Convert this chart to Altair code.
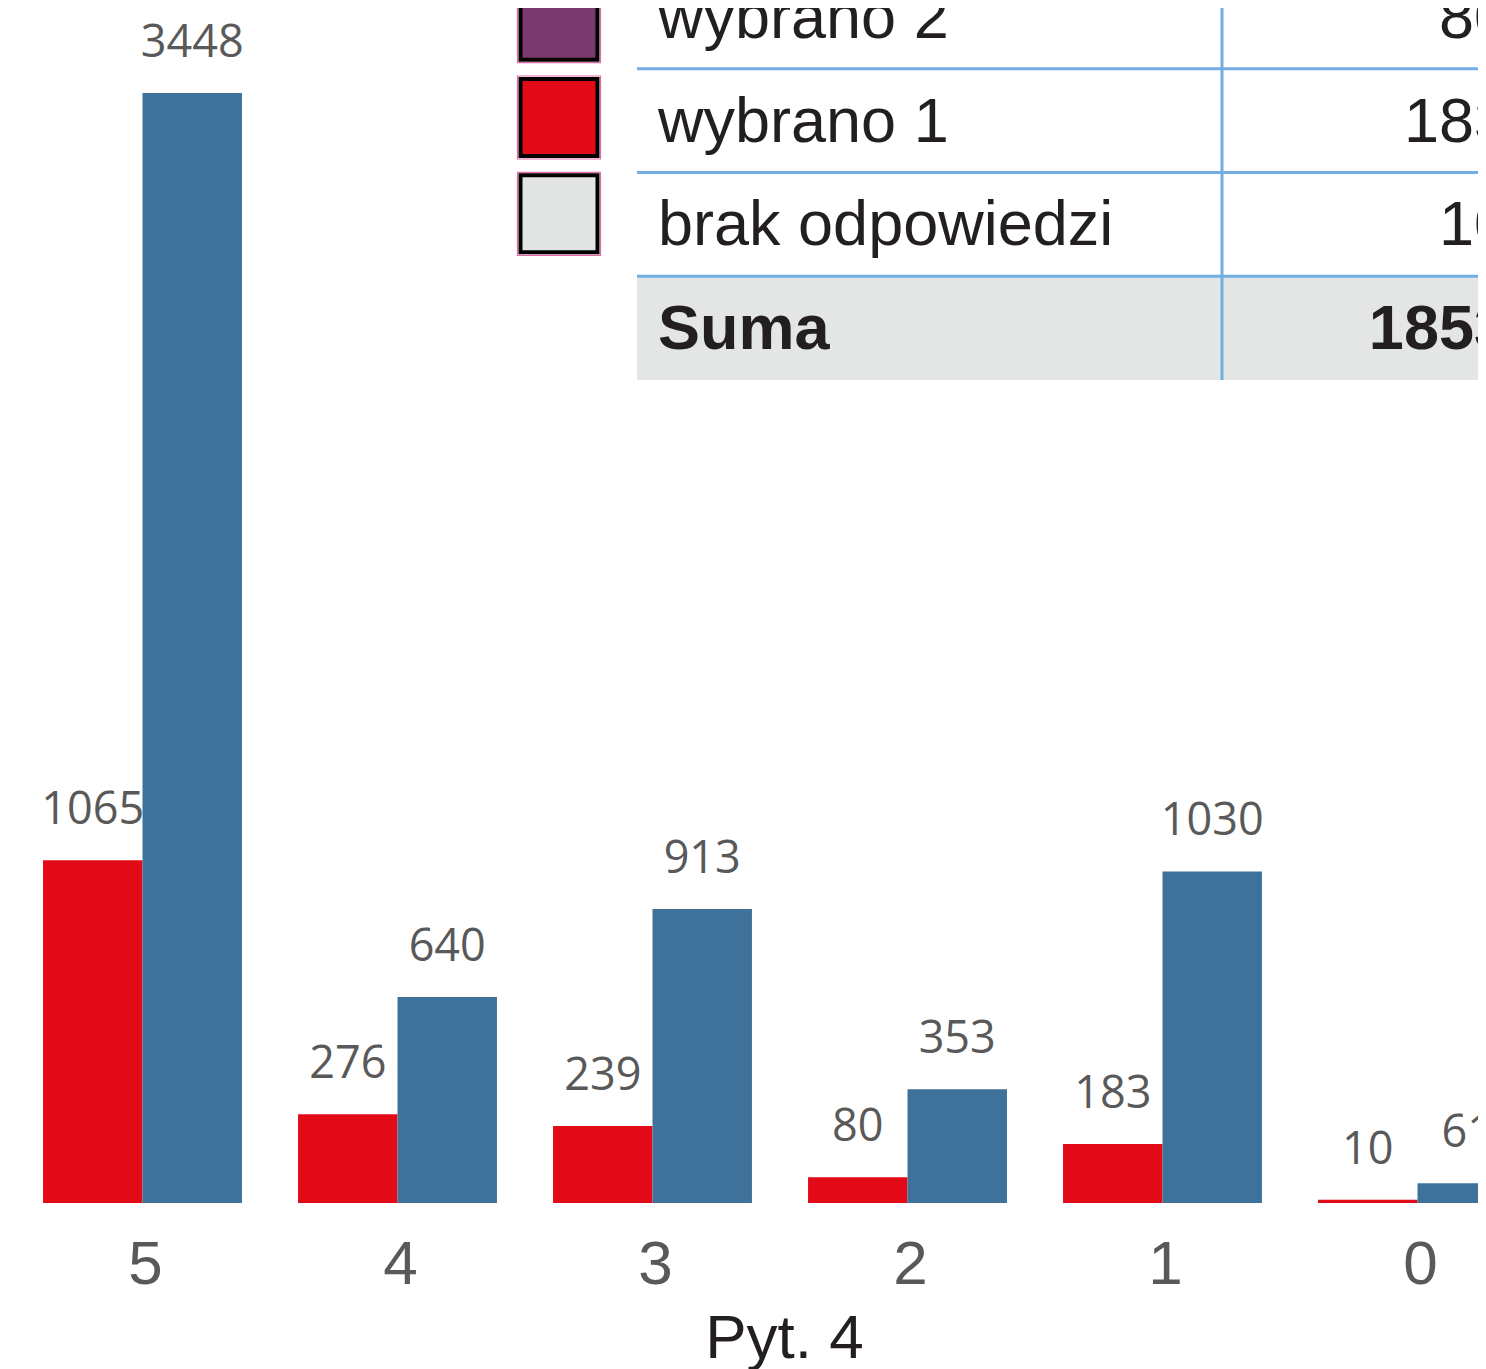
import altair as alt
import pandas as pd

# ---- data ----
categories = ["5", "4", "3", "2", "1", "0"]
series_keys = ["s1", "s2"]
red_values = [1065, 276, 239, 80, 183, 10]
blue_values = [3448, 640, 913, 353, 1030, 61]

table_rows = ["wybrano 2", "wybrano 1", "brak odpowiedzi", "Suma"]
table_values = ["80", "183", "10", "1853"]
swatch_colors = ["#7a3a6d", "#e30a17", "#e3e5e4"]

RED = "#e30a17"
BLUE = "#3e729a"
LINE = "#72ade3"
TXT = "#231f20"
GRAY_TXT = "#595959"

W, H = 1470, 1195

bars_df = pd.DataFrame({
    "cat": categories * 2,
    "series": [series_keys[0]] * len(categories) + [series_keys[1]] * len(categories),
    "value": red_values + blue_values,
})
rows_df = pd.DataFrame({"row": table_rows, "val": table_values})
sw_df = pd.DataFrame({"row": table_rows[:3], "c": swatch_colors})
one_df = pd.DataFrame({"a": [0]})

xscale = alt.Scale(domain=categories, range=[7, 1537], paddingInner=0.22, paddingOuter=0.11)
yscale = alt.Scale(domain=[0, 3712], nice=False, zero=True)

xenc = alt.X(
    "cat:N", scale=xscale,
    axis=alt.Axis(
        title="Pyt. 4", domain=False, ticks=False, grid=False, labelAngle=0,
        labelFont="Liberation Sans", labelFontSize=62, labelColor=GRAY_TXT, labelPadding=31,
        labelOffset=3,
        titleFont="Liberation Sans", titleFontSize=62, titleFontWeight="normal",
        titleColor=TXT, titleX=776, titleY=154, titleBaseline="alphabetic", titleAlign="center",
    ),
)
xoff = alt.XOffset("series:N", scale=alt.Scale(domain=series_keys, paddingInner=0, paddingOuter=0))
yenc = alt.Y("value:Q", scale=yscale, axis=None)

bars = alt.Chart(bars_df).mark_bar(clip=True).encode(
    x=xenc, xOffset=xoff, y=yenc,
    color=alt.Color("series:N", scale=alt.Scale(domain=series_keys, range=[RED, BLUE]), legend=None),
)
labels = alt.Chart(bars_df).mark_text(
    clip=True, dy=-36, baseline="alphabetic", font="Open Sans", fontSize=45, color=GRAY_TXT
).encode(x=xenc, xOffset=xoff, y=yenc, text="value:Q")

row_scale = alt.Scale(type="band", domain=table_rows, range=[-43, 372], paddingInner=0, paddingOuter=0)
row_y = alt.Y("row:N", scale=row_scale, axis=None)
row_y0 = alt.Y("row:N", scale=row_scale, axis=None, bandPosition=0)

suma_bg = alt.Chart(rows_df).transform_filter(alt.datum.row == "Suma").mark_rect(
    clip=True, color="#e4e6e5"
).encode(y=row_y, x=alt.value(629), x2=alt.value(1490))

hlines = alt.Chart(rows_df).mark_rule(clip=True, color=LINE, strokeWidth=3).encode(
    y=row_y0, x=alt.value(629), x2=alt.value(1490)
)
vline = alt.Chart(one_df).mark_rule(clip=True, color=LINE, strokeWidth=3).encode(
    x=alt.value(1214), y=alt.value(-50), y2=alt.value(372)
)

sw_scale = alt.Scale(type="band", domain=table_rows[:3], range=[-35, 254], paddingInner=0, paddingOuter=0)
sw_y = alt.Y("row:N", scale=sw_scale, axis=None)
sw_outline = alt.Chart(sw_df).mark_square(
    clip=True, size=83 * 83, filled=False, stroke="#e46aa8", strokeWidth=1.2, opacity=1
).encode(x=alt.value(551), y=sw_y)
swatches = alt.Chart(sw_df).mark_square(
    clip=True, size=77 * 77, filled=True, stroke="black", strokeWidth=4, opacity=1
).encode(x=alt.value(551), y=sw_y, fill=alt.Fill("c:N", scale=None))

row_txt = alt.Chart(rows_df).transform_filter(alt.datum.row != "Suma").mark_text(
    clip=True, align="left", baseline="alphabetic", dy=21, font="Liberation Sans",
    fontSize=63, color=TXT
).encode(x=alt.value(650), y=row_y, text="row:N")
row_txt_b = alt.Chart(rows_df).transform_filter(alt.datum.row == "Suma").mark_text(
    clip=True, align="left", baseline="alphabetic", dy=21, font="Liberation Sans",
    fontSize=63, fontWeight="bold", color=TXT
).encode(x=alt.value(650), y=row_y, text="row:N")
val_txt = alt.Chart(rows_df).transform_filter(alt.datum.row != "Suma").mark_text(
    clip=True, align="right", baseline="alphabetic", dy=21, font="Liberation Sans",
    fontSize=63, color=TXT
).encode(x=alt.value(1501), y=row_y, text="val:N")
val_txt_b = alt.Chart(rows_df).transform_filter(alt.datum.row == "Suma").mark_text(
    clip=True, align="right", baseline="alphabetic", dy=21, font="Liberation Sans",
    fontSize=63, fontWeight="bold", color=TXT
).encode(x=alt.value(1501), y=row_y, text="val:N")

chart = alt.layer(
    suma_bg, hlines, vline, sw_outline, swatches,
    row_txt, row_txt_b, val_txt, val_txt_b,
    bars, labels,
).resolve_scale(y="independent").properties(
    width=W, height=H,
    autosize=alt.AutoSizeParams(type="none"),
    padding={"left": 0, "top": 0, "right": 0, "bottom": 166},
).configure_view(stroke=None)

chart.save("out.html", embed_options={"renderer": "svg", "actions": False})
